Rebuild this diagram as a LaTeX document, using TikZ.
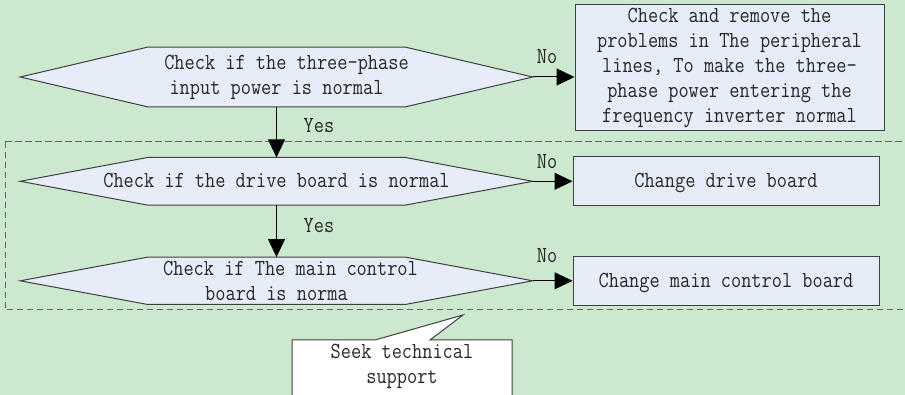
\documentclass[tikz,border=0pt]{standalone}
\usepackage{fontspec}
\setmonofont{Latin Modern Mono}[FakeStretch=0.86]
\usetikzlibrary{arrows.meta,calc,backgrounds}
\definecolor{bg}{RGB}{204,232,207}
\definecolor{boxfill}{RGB}{230,236,248}
\definecolor{edge}{RGB}{64,64,64}
\definecolor{ink}{RGB}{40,40,40}
\definecolor{framecol}{RGB}{100,100,100}

% hexagonal decision outline drawn around a named node
\newcommand\hexoutline[1]{%
  \filldraw[draw=edge, fill=boxfill, line width=1pt]
    (#1.west) -- ($(#1.north west)+(127.5,0)$) -- ($(#1.north east)+(-127.5,0)$)
    -- (#1.east) -- ($(#1.south east)+(-127.5,0)$) -- ($(#1.south west)+(127.5,0)$) -- cycle;}

\begin{document}
\begin{tikzpicture}[x=1pt, y=-1pt,
  every node/.style={font=\ttfamily\fontsize{23}{25}\selectfont, text=ink, inner sep=0pt},
  oneline/.style={text height=14pt, text depth=2pt},
  decision/.style={minimum width=512pt, align=center},
  action/.style={draw=edge, fill=boxfill, line width=1pt, align=center},
  arr/.style={draw=black, line width=1pt, -{Triangle[length=18pt,width=17pt]}},
]
\useasboundingbox (0,0) rectangle (905,395);

% decisions
\node[decision, minimum height=59.4pt] (d1) at (276.5,77)
  {\hspace*{20pt}Check if the three-phase\\input power is normal};
\node[decision, oneline, minimum height=47.3pt] (d2) at (276.5,181.3)
  {Check if the drive board is normal};
\node[decision, minimum height=47pt] (d3) at (276.5,280.8)
  {\hspace*{28pt}Check if The main control\\board is norma};

% actions
\node[action, minimum width=309pt, minimum height=126pt] (b1) at (729.5,68)
  {Check and remove the\\problems in The peripheral\\lines, To make the three-\\phase power entering the\\frequency inverter normal};
\node[action, oneline, minimum width=306pt, minimum height=49.3pt] (b2) at (726,181.3)
  {Change drive board};
\node[action, oneline, minimum width=306pt, minimum height=49pt] (b3) at (726,281.2)
  {Change main control board};

% callout text
\node[align=center] (help) at (402,366) {Seek technical\\support};
\coordinate (tip) at (463,315);

% connectors
\draw[arr] (d1.east) -- (d1.east -| b1.west);
\draw[arr] (d2.east) -- (b2.west);
\draw[arr] (d3.east) -- (d3.east -| b3.west);
\draw[arr] (d1.south) -- (d2.north);
\draw[arr] (d2.south) -- (d3.north);

% branch labels
\node (no1) at (547,57) {No};
\node (no2) at (547,162) {No};
\node (no3) at (547,256) {No};
\node (yes1) at (319,126) {Yes};
\node (yes2) at (319,225.7) {Yes};

\begin{scope}[on background layer]
  \fill[bg] (0,0) rectangle (905,395);
  \draw[framecol, line width=1pt, dash pattern=on 6.5pt off 3.5pt] (5,141.7) rectangle (915,310);
  \hexoutline{d1}
  \hexoutline{d2}
  \hexoutline{d3}
  \filldraw[draw=edge, fill=white, line width=1pt]
    ($(help.center)+(-110,40)$) -- ($(help.center)+(-110,-26)$) -- ($(help.center)+(-27,-26)$)
    -- (tip) -- ($(help.center)+(28,-26)$) -- ($(help.center)+(110,-26)$) -- ($(help.center)+(110,40)$);
\end{scope}
\end{tikzpicture}
\end{document}
